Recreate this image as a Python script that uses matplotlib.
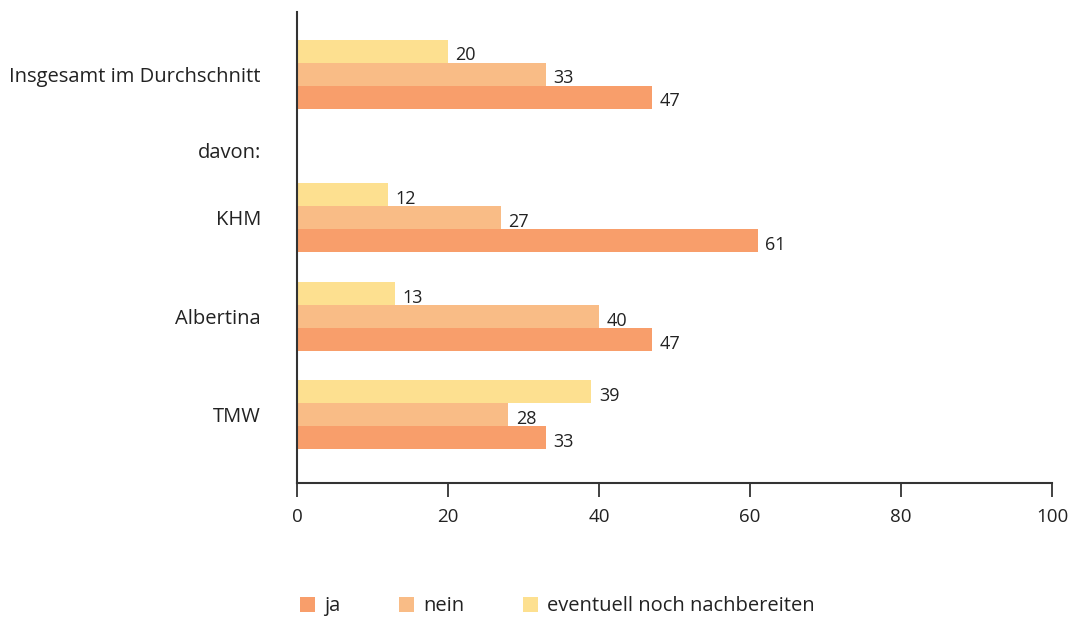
import matplotlib.pyplot as plt
from matplotlib.patches import Patch

plt.rcParams['font.family'] = ['Open Sans', 'DejaVu Sans']

categories = ['Insgesamt im Durchschnitt', 'KHM', 'Albertina', 'TMW']
ja = [47, 61, 47, 33]
nein = [33, 27, 40, 28]
eventuell = [20, 12, 13, 39]
series_names = ['ja', 'nein', 'eventuell noch nachbereiten']

colors = ['#F89E6B', '#F9BC86', '#FDE090']

# group centres (Insgesamt sits apart, "davon:" label in between)
ypos = [0, 1.45, 2.45, 3.44]
h = 0.232

fig = plt.figure(figsize=(10.81, 6.2), dpi=100)
ax = fig.add_axes([297 / 1081, (620 - 483) / 620, (1052 - 297) / 1081, (483 - 12) / 620])

for vals, off, c in zip([ja, nein, eventuell], [h, 0, -h], colors):
    ys = [y + off for y in ypos]
    ax.barh(ys, vals, height=h, color=c, linewidth=0)
    for y, v in zip(ys, vals):
        ax.text(v + 1.0, y + 0.04, str(v), va='center', ha='left', fontsize=13, color='#222222')

ax.set_xlim(0, 100)
ax.set_ylim(4.13, -0.63)
ax.set_xticks([0, 20, 40, 60, 80, 100])
ax.tick_params(axis='x', length=10, width=1.3, color='#333333', labelsize=13.5, pad=8, labelcolor='#222222')
ax.set_yticks(ypos + [0.77])
ax.set_yticklabels(categories + ['davon:'], fontsize=14.5, color='#222222')
ax.tick_params(axis='y', length=0, pad=26)

for s in ['top', 'right']:
    ax.spines[s].set_visible(False)
for s in ['left', 'bottom']:
    ax.spines[s].set_color('#333333')
    ax.spines[s].set_linewidth(1.5)

handles = [Patch(facecolor=c, edgecolor='none') for c in colors]
fig.legend(handles, series_names, loc='center left', bbox_to_anchor=(282 / 1081, 0.022), ncol=3,
           frameon=False, fontsize=14.5, handlelength=0.75, handleheight=0.75,
           columnspacing=2.9, handletextpad=0.45, labelcolor='#222222')

fig.savefig('out.png', dpi=100)
